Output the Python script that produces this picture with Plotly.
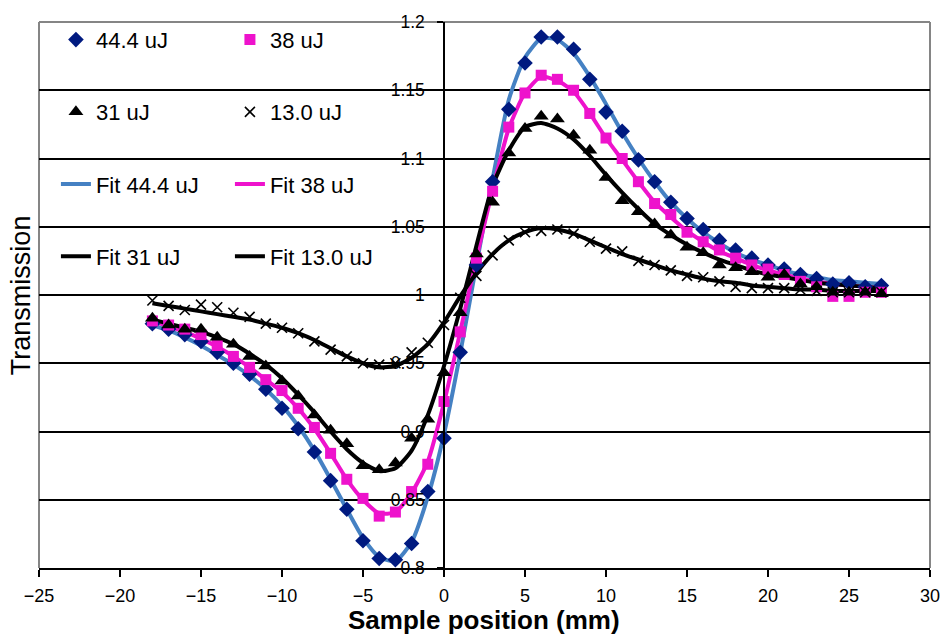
import plotly.graph_objects as go

# ---------------- data ----------------
positions = [-18, -17, -16, -15, -14, -13, -12, -11, -10, -9, -8, -7, -6, -5, -4, -3, -2, -1,
             0, 1, 2, 3, 4, 5, 6, 7, 8, 9, 10, 11, 12, 13, 14, 15, 16, 17, 18, 19, 20, 21, 22,
             23, 24, 25, 26, 27]

t_44 = [0.979, 0.975, 0.971, 0.966, 0.958, 0.950, 0.942, 0.931, 0.917, 0.902, 0.885, 0.864,
        0.843, 0.820, 0.807, 0.806, 0.818, 0.856,
        0.895, 0.958, 1.022, 1.083, 1.136, 1.170, 1.189, 1.189, 1.180, 1.158, 1.134, 1.120,
        1.099, 1.083, 1.068, 1.056, 1.048, 1.040, 1.033, 1.027, 1.022, 1.019, 1.015, 1.012,
        1.008, 1.009, 1.006, 1.007]

t_38 = [0.981, 0.978, 0.975, 0.971, 0.963, 0.955, 0.947, 0.938, 0.930, 0.917, 0.903, 0.884,
        0.865, 0.851, 0.838, 0.841, 0.856, 0.876,
        0.922, 0.973, 1.027, 1.076, 1.123, 1.148, 1.161, 1.158, 1.150, 1.133, 1.115, 1.100,
        1.083, 1.067, 1.059, 1.046, 1.039, 1.033, 1.027, 1.022, 1.019, 1.015, 1.010, 1.006,
        0.999, 0.999, 1.002, 1.002]

t_31 = [0.983, 0.978, 0.975, 0.975, 0.969, 0.964, 0.955, 0.948, 0.937, 0.926, 0.912, 0.901,
        0.891, 0.875, 0.872, 0.877, 0.895, 0.909,
        0.943, 0.987, 1.030, 1.068, 1.104, 1.122, 1.131, 1.129, 1.117, 1.106, 1.086, 1.069,
        1.061, 1.052, 1.044, 1.035, 1.031, 1.022, 1.020, 1.017, 1.013, 1.015, 1.008, 1.006,
        1.002, 1.002, 1.002, 1.001]

t_13 = [0.996, 0.992, 0.989, 0.993, 0.991, 0.987, 0.984, 0.979, 0.976, 0.972, 0.966, 0.960,
        0.955, 0.950, 0.949, 0.950, 0.958, 0.965,
        0.978, 0.998, 1.014, 1.029, 1.040, 1.046, 1.047, 1.048, 1.045, 1.039, 1.034, 1.032,
        1.025, 1.022, 1.018, 1.014, 1.013, 1.010, 1.006, 1.005, 1.005, 1.005, 1.004, 1.003,
        1.002, 1.002, 1.002, 1.002]

fit_44 = [0.978, 0.974, 0.969, 0.963, 0.956, 0.949, 0.941, 0.931, 0.919, 0.904, 0.886, 0.865,
          0.843, 0.822, 0.808, 0.805, 0.819, 0.852,
          0.898, 0.957, 1.022, 1.085, 1.143, 1.174, 1.188, 1.187, 1.177, 1.160, 1.140, 1.119,
          1.100, 1.083, 1.068, 1.056, 1.046, 1.038, 1.031, 1.026, 1.022, 1.018, 1.015, 1.013,
          1.011, 1.010, 1.009, 1.008]

fit_38 = [0.981, 0.977, 0.973, 0.968, 0.962, 0.955, 0.947, 0.938, 0.929, 0.917, 0.902, 0.884,
          0.865, 0.850, 0.840, 0.841, 0.855, 0.878,
          0.921, 0.973, 1.027, 1.077, 1.122, 1.148, 1.160, 1.157, 1.149, 1.133, 1.115, 1.099,
          1.083, 1.068, 1.057, 1.047, 1.039, 1.032, 1.027, 1.022, 1.018, 1.015, 1.012, 1.010,
          1.008, 1.007, 1.006, 1.005]

fit_31 = [0.982, 0.979, 0.976, 0.973, 0.969, 0.964, 0.957, 0.949, 0.939, 0.927, 0.914, 0.900,
          0.887, 0.877, 0.871, 0.873, 0.886, 0.912,
          0.948, 0.990, 1.036, 1.080, 1.106, 1.123, 1.126, 1.122, 1.114, 1.102, 1.088, 1.075,
          1.063, 1.052, 1.044, 1.037, 1.031, 1.026, 1.022, 1.018, 1.015, 1.013, 1.011, 1.009,
          1.008, 1.007, 1.006, 1.005]

fit_13 = [0.994, 0.992, 0.990, 0.988, 0.986, 0.984, 0.982, 0.979, 0.976, 0.972, 0.967, 0.961,
          0.955, 0.950, 0.947, 0.948, 0.954, 0.964,
          0.980, 0.999, 1.016, 1.030, 1.040, 1.046, 1.049, 1.048, 1.045, 1.040, 1.035, 1.030,
          1.026, 1.022, 1.018, 1.015, 1.012, 1.010, 1.009, 1.007, 1.006, 1.005, 1.004, 1.004,
          1.003, 1.003, 1.003, 1.003]

x_ticks = [-25, -20, -15, -10, -5, 0, 5, 10, 15, 20, 25, 30]
y_ticks = [0.8, 0.85, 0.9, 0.95, 1.0, 1.05, 1.1, 1.15, 1.2]
y_tick_text = ["0.8", "0.85", "0.9", "0.95", "1", "1.05", "1.1", "1.15", "1.2"]

# ---------------- styles ----------------
FONT = "Liberation Sans, Arial, sans-serif"
BLUE = "#4581C3"
MAGENTA = "#EE12CC"
NAVY = "#001A80"

fig = go.Figure()

# fit lines (drawn under the markers)
fig.add_trace(go.Scatter(x=positions, y=fit_44, mode="lines", name="Fit 44.4 uJ",
                         line=dict(color=BLUE, width=4, shape="spline", smoothing=0.6),
                         legend="legend3"))
fig.add_trace(go.Scatter(x=positions, y=fit_38, mode="lines", name="Fit 38 uJ",
                         line=dict(color=MAGENTA, width=4, shape="spline", smoothing=0.6),
                         legend="legend3"))
fig.add_trace(go.Scatter(x=positions, y=fit_31, mode="lines", name="Fit 31 uJ",
                         line=dict(color="black", width=4, shape="spline", smoothing=0.6),
                         legend="legend4"))
fig.add_trace(go.Scatter(x=positions, y=fit_13, mode="lines", name="Fit 13.0 uJ",
                         line=dict(color="black", width=4, shape="spline", smoothing=0.6),
                         legend="legend4"))

# measured points
fig.add_trace(go.Scatter(x=positions, y=t_44, mode="markers", name="44.4 uJ",
                         marker=dict(symbol="diamond", size=12, color=NAVY),
                         legend="legend"))
fig.add_trace(go.Scatter(x=positions, y=t_38, mode="markers", name="38 uJ",
                         marker=dict(symbol="square", size=11, color=MAGENTA),
                         legend="legend"))
fig.add_trace(go.Scatter(x=positions, y=t_31, mode="markers", name="31 uJ",
                         marker=dict(symbol="triangle-up", size=13, color="black"),
                         legend="legend2"))
fig.add_trace(go.Scatter(x=positions, y=t_13, mode="markers", name="13.0 uJ",
                         marker=dict(symbol="x-thin", size=10, color="black",
                                     line=dict(color="black", width=1.6)),
                         legend="legend2"))

L, R, T, B = 39, 15, 16, 67
W, H = 952, 635
plot_w = W - L - R
plot_h = H - T - B


def row_y(px):
    return (H - B - px) / plot_h


legend_common = dict(orientation="h", x=0.019, xanchor="left", yanchor="middle",
                     bgcolor="rgba(0,0,0,0)", borderwidth=0, entrywidth=129,
                     entrywidthmode="pixels", traceorder="normal",
                     font=dict(family=FONT, size=22, color="black"))

fig.update_layout(
    width=W, height=H,
    margin=dict(l=L, r=R, t=T, b=B),
    paper_bgcolor="white", plot_bgcolor="white",
    font=dict(family=FONT, color="black"),
    showlegend=True,
    legend=dict(legend_common, y=row_y(34)),
    legend2=dict(legend_common, y=row_y(107)),
    legend3=dict(legend_common, y=row_y(180)),
    legend4=dict(legend_common, y=row_y(253)),
    xaxis=dict(range=[-25, 30], tickvals=x_ticks, ticks="outside", ticklen=7,
               tickwidth=1.5, tickcolor="black", showgrid=False, zeroline=False,
               showline=True, linecolor="black", linewidth=2,
               ticklabelstandoff=3,
               tickfont=dict(family=FONT, size=18, color="black")),
    yaxis=dict(range=[0.8, 1.2], tickvals=y_ticks, ticktext=y_tick_text,
               anchor="free", position=25 / 55, ticks="outside", ticklen=6,
               tickwidth=1.5, tickcolor="black", showgrid=True, gridcolor="black",
               gridwidth=1.5, zeroline=False, showline=True, linecolor="black",
               linewidth=1.5, ticklabelstandoff=9,
               tickfont=dict(family=FONT, size=17.5, color="black")),
    shapes=[
        dict(type="line", xref="paper", yref="paper", x0=0, x1=0, y0=0, y1=1,
             line=dict(color="#858585", width=2), layer="between"),
        dict(type="line", xref="paper", yref="paper", x0=0, x1=1, y0=1, y1=1,
             line=dict(color="#858585", width=2), layer="between"),
        dict(type="line", xref="paper", yref="paper", x0=1, x1=1, y0=0, y1=1,
             line=dict(color="#858585", width=2), layer="between"),
    ],
    annotations=[
        dict(text="Transmission", xref="paper", yref="paper",
             x=(21 - L) / plot_w, y=0.5, xanchor="center", yanchor="middle",
             textangle=-90, showarrow=False,
             font=dict(family=FONT, size=27, color="black")),
        dict(text="<b>Sample position (mm)</b>", xref="paper", yref="paper",
             x=(487 - L) / plot_w, y=(H - B - 621) / plot_h, xanchor="center",
             yanchor="middle", showarrow=False,
             font=dict(family=FONT, size=26, color="black")),
    ],
)

fig.write_html("out.html")
